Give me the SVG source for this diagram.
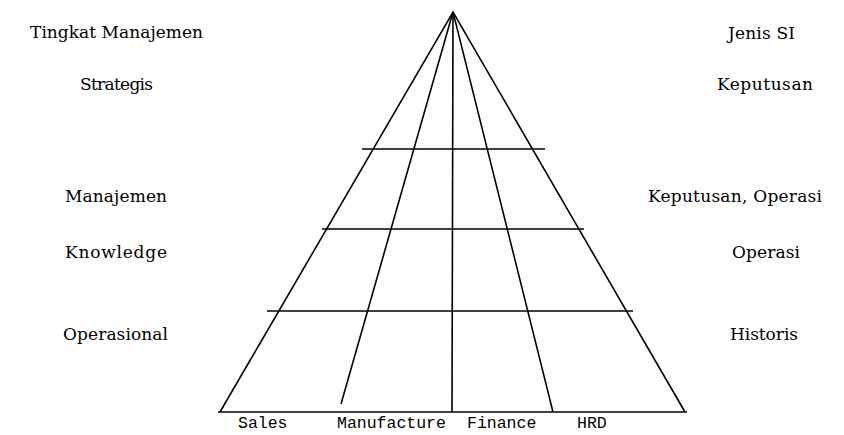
<svg xmlns="http://www.w3.org/2000/svg" width="844" height="435" viewBox="0 0 844 435">
<style>
.s{font-family:"DejaVu Serif","Liberation Serif",serif;font-size:17px;fill:#000}
.m{font-family:"Liberation Mono","Courier New",monospace;font-size:16.5px;fill:#000}
.l{stroke:#000;stroke-width:1.6;fill:none}
</style>
<rect width="844" height="435" fill="#fff"/>
<g id="connectors">
<polyline class="l" points="220,412 453,12 685,412"/>
<line class="l" x1="218" y1="412" x2="687" y2="412"/>
<line class="l" x1="453" y1="12" x2="341" y2="404"/>
<line class="l" x1="453" y1="12" x2="452" y2="412"/>
<line class="l" x1="453" y1="12" x2="553" y2="412"/>
<line class="l" x1="362" y1="149" x2="545" y2="149"/>
<line class="l" x1="322" y1="229" x2="584" y2="229"/>
<line class="l" x1="267" y1="311" x2="633" y2="311"/>
</g>
<g id="left-labels">
<text class="s" x="30" y="38" textLength="173">Tingkat Manajemen</text>
<text class="s" x="80" y="90" textLength="73">Strategis</text>
<text class="s" x="65" y="202" textLength="102">Manajemen</text>
<text class="s" x="65" y="258" textLength="102">Knowledge</text>
<text class="s" x="63" y="340" textLength="105">Operasional</text>
</g>
<g id="right-labels">
<text class="s" x="728" y="39" textLength="67">Jenis SI</text>
<text class="s" x="717" y="90" textLength="96">Keputusan</text>
<text class="s" x="648" y="202" textLength="174">Keputusan, Operasi</text>
<text class="s" x="732" y="258" textLength="68">Operasi</text>
<text class="s" x="730" y="340" textLength="68">Historis</text>
</g>
<g id="bottom-labels">
<text class="m" x="238" y="428">Sales</text>
<text class="m" x="337" y="428">Manufacture</text>
<text class="m" x="467" y="428">Finance</text>
<text class="m" x="577" y="428">HRD</text>
</g>
</svg>
